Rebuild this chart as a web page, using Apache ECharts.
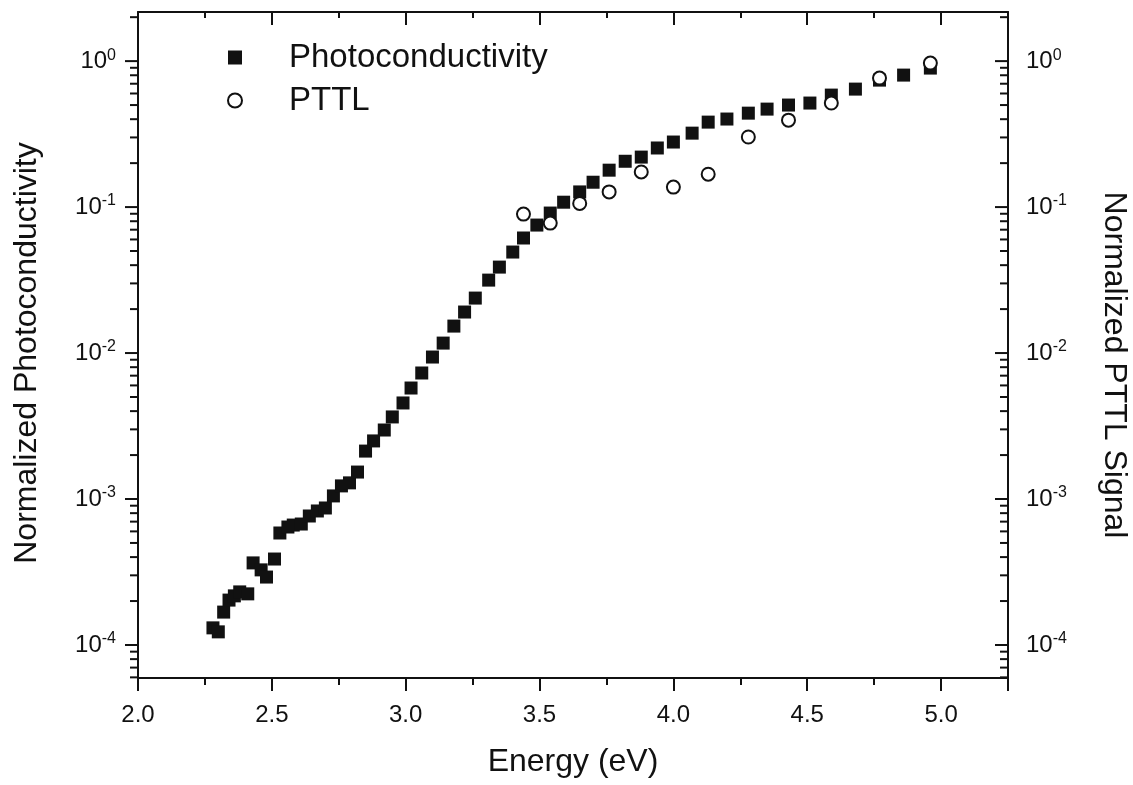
<!DOCTYPE html>
<html>
<head>
<meta charset="utf-8">
<script src="https://cdn.jsdelivr.net/npm/echarts@6/dist/echarts.min.js"></script>
<style>html,body{margin:0;padding:0;background:#fff;}#c{width:1133px;height:785px;}</style>
</head>
<body>
<div id="c"></div>
<script>
// Photoconductivity (filled squares): energy (eV) and normalized value
const pcEnergy = [2.28,2.30,2.32,2.34,2.36,2.38,2.41,2.43,2.46,2.48,2.51,2.53,2.56,2.58,2.61,2.64,2.67,2.70,2.73,2.76,
  2.79,2.82,2.85,2.88,2.92,2.95,2.99,3.02,3.06,3.10,3.14,3.18,3.22,3.26,3.31,3.35,3.40,3.44,3.49,3.54,
  3.59,3.65,3.70,3.76,3.82,3.88,3.94,4.00,4.07,4.13,4.20,4.28,4.35,4.43,4.51,4.59,4.68,4.77,4.86,4.96];
const pcValue = [1.31e-4,1.23e-4,1.68e-4,2.03e-4,2.17e-4,2.31e-4,2.24e-4,3.65e-4,3.27e-4,2.92e-4,
  3.88e-4,5.85e-4,6.43e-4,6.63e-4,6.74e-4,7.65e-4,8.28e-4,8.68e-4,1.05e-3,1.23e-3,
  1.29e-3,1.53e-3,2.13e-3,2.50e-3,2.97e-3,3.65e-3,4.55e-3,5.76e-3,7.30e-3,9.39e-3,
  1.17e-2,1.53e-2,1.91e-2,2.38e-2,3.16e-2,3.88e-2,4.92e-2,6.14e-2,7.53e-2,9.10e-2,
  0.108,0.127,0.148,0.179,0.206,0.220,0.254,0.279,0.321,0.382,
  0.401,0.440,0.469,0.500,0.516,0.585,0.643,0.741,0.802,0.896];
// PTTL (open circles)
const pttlEnergy = [3.44,3.54,3.65,3.76,3.88,4.00,4.13,4.28,4.43,4.59,4.77,4.96];
const pttlValue = [0.0895,0.0777,0.106,0.127,0.174,0.137,0.168,0.302,0.394,0.516,0.765,0.97];
// axis ranges and log ticks
const xMin = 2.0, xMax = 5.25;
const yMin = 5.94e-5, yMax = 2.17;
const yMajorTicks = [1e-4, 1e-3, 1e-2, 1e-1, 1];
const yMinorTicks = [6e-5,7e-5,8e-5,9e-5,
  2e-4,3e-4,4e-4,5e-4,6e-4,7e-4,8e-4,9e-4,
  2e-3,3e-3,4e-3,5e-3,6e-3,7e-3,8e-3,9e-3,
  2e-2,3e-2,4e-2,5e-2,6e-2,7e-2,8e-2,9e-2,
  0.2,0.3,0.4,0.5,0.6,0.7,0.8,0.9,2];

const FONT = 'Liberation Sans';
const INK = '#111';

function powLabel(v) {
  const l = Math.log10(v);
  const e = Math.round(l);
  if (Math.abs(l - e) > 1e-6) return '';
  return '{b|10}{s|' + e + '}';
}
const labelRich = {
  b: {fontSize: 24, fontFamily: FONT, color: INK},
  s: {fontSize: 16, fontFamily: FONT, color: INK, padding: [0, 0, 12, 0]}
};

function tickSeries(name, values, len) {
  return {
    name: name, type: 'custom', xAxisIndex: 0, yAxisIndex: 0,
    silent: true, clip: false,
    data: values.map(v => [xMin, v]),
    renderItem: function (params, api) {
      const v = api.value(1);
      const pL = api.coord([xMin, v]);
      const pR = api.coord([xMax, v]);
      return {type: 'group', children: [
        {type: 'line', shape: {x1: pL[0] - len, y1: pL[1], x2: pL[0], y2: pL[1]}, style: {stroke: INK, lineWidth: 2}},
        {type: 'line', shape: {x1: pR[0] - len, y1: pR[1], x2: pR[0], y2: pR[1]}, style: {stroke: INK, lineWidth: 2}}
      ]};
    },
    z: 2
  };
}

const chart = echarts.init(document.getElementById('c'), null, {renderer: 'canvas'});
chart.setOption({
  animation: false,
  backgroundColor: '#fff',
  grid: {left: 138, right: 125, top: 12, bottom: 107, containLabel: false, outerBoundsMode: 'none'},
  legend: {
    orient: 'vertical', left: 222, top: 36, itemGap: 10,
    itemWidth: 14, itemHeight: 14,
    data: ['Photoconductivity', 'PTTL'],
    textStyle: {fontFamily: FONT, fontSize: 33, color: INK, padding: [0, 0, 0, 42]}
  },
  xAxis: [{
    type: 'value', position: 'bottom', min: xMin, max: xMax, interval: 0.5,
    axisLine: {show: true, onZero: false, lineStyle: {color: INK, width: 2}},
    axisTick: {show: true, inside: false, length: 13, lineStyle: {color: INK, width: 2}},
    minorTick: {show: true, splitNumber: 2, length: 7, lineStyle: {color: INK, width: 2}},
    splitLine: {show: false},
    axisLabel: {fontFamily: FONT, fontSize: 24, color: INK, margin: 25, showMaxLabel: false,
      formatter: v => v.toFixed(1)},
    name: 'Energy (eV)', nameLocation: 'middle', nameGap: 68,
    nameTextStyle: {fontFamily: FONT, fontSize: 32, color: INK}
  }, {
    type: 'value', position: 'top', min: xMin, max: xMax, interval: 0.5,
    axisLine: {show: true, onZero: false, lineStyle: {color: INK, width: 2}},
    axisTick: {show: true, inside: true, length: 13, lineStyle: {color: INK, width: 2}},
    minorTick: {show: true, splitNumber: 2, length: 6, lineStyle: {color: INK, width: 2}},
    splitLine: {show: false},
    axisLabel: {show: false}
  }],
  yAxis: [{
    type: 'log', logBase: 10, position: 'left', min: yMin, max: yMax,
    axisLine: {show: true, onZero: false, lineStyle: {color: INK, width: 2}},
    axisTick: {show: false},
    splitLine: {show: false},
    axisLabel: {margin: 22, formatter: powLabel, rich: labelRich},
    name: 'Normalized Photoconductivity', nameLocation: 'middle', nameGap: 95,
    nameTextStyle: {fontFamily: FONT, fontSize: 32, color: INK, padding: [0, 16, 0, 0]}
  }, {
    type: 'log', logBase: 10, position: 'right', min: yMin, max: yMax,
    axisLine: {show: true, onZero: false, lineStyle: {color: INK, width: 2}},
    axisTick: {show: false},
    splitLine: {show: false},
    axisLabel: {margin: 18, formatter: powLabel, rich: labelRich},
    name: 'Normalized PTTL Signal', nameLocation: 'middle', nameGap: 90, nameRotate: -90,
    nameTextStyle: {fontFamily: FONT, fontSize: 32, color: INK, padding: [0, 0, 0, 40]}
  }],
  series: [{
    name: 'Photoconductivity', type: 'scatter', xAxisIndex: 0, yAxisIndex: 0,
    symbol: 'rect', symbolSize: 13,
    itemStyle: {color: INK, opacity: 1},
    data: pcEnergy.map((e, i) => [e, pcValue[i]]),
    z: 3
  }, {
    name: 'PTTL', type: 'scatter', xAxisIndex: 0, yAxisIndex: 1,
    symbol: 'circle', symbolSize: 13,
    itemStyle: {color: '#fff', borderColor: INK, borderWidth: 2, opacity: 1},
    data: pttlEnergy.map((e, i) => [e, pttlValue[i]]),
    z: 4
  },
  tickSeries('majorTicks', yMajorTicks, 13),
  tickSeries('minorTicks', yMinorTicks, 8)
  ]
});
</script>
</body>
</html>
